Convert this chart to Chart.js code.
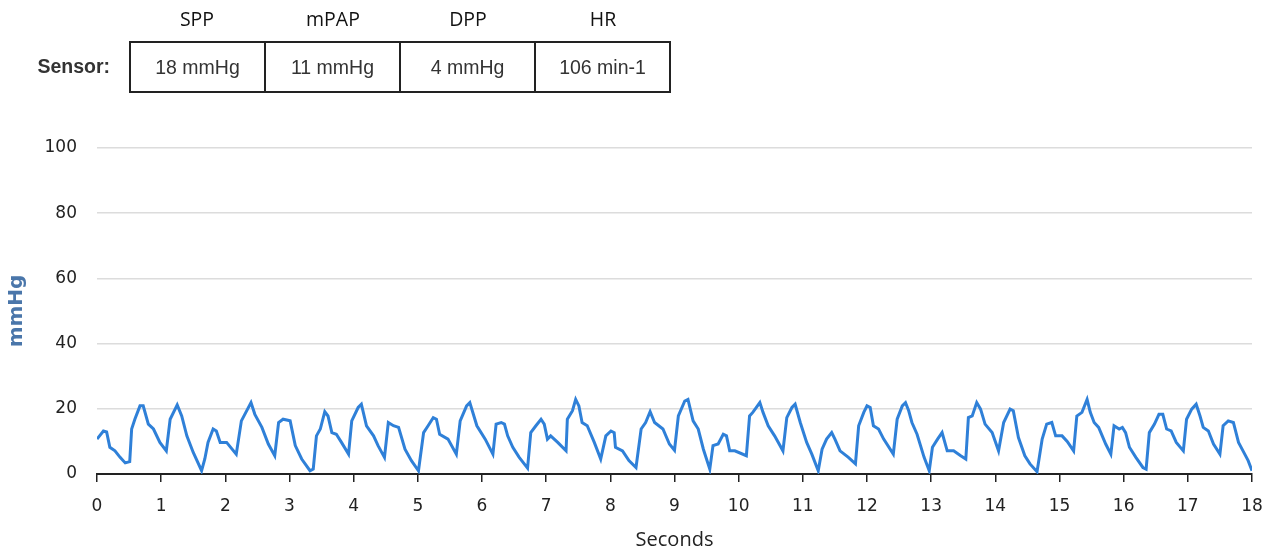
<!DOCTYPE html>
<html>
<head>
<meta charset="utf-8">
<script src="https://cdn.jsdelivr.net/npm/chart.js@4/dist/chart.umd.min.js"></script>
<style>
  html, body { margin: 0; padding: 0; background: #fff; }
  #wrap { position: relative; width: 1272px; height: 553px; overflow: hidden; }
  #c { position: absolute; left: 0; top: 0; }
  .hdr { position: absolute; top: 5px; width: 136px; text-align: center; font-family: "Open Sans", sans-serif; font-size: 19.5px; color: #111; }
  #sensorLbl { position: absolute; left: 10px; width: 100px; top: 55px; text-align: right; font-family: "Liberation Sans", Arial, sans-serif; font-weight: bold; font-size: 19.5px; color: #333; }
  #tbl { position: absolute; left: 129px; top: 41px; border-collapse: collapse; }
  #tbl td { border: 2px solid #222; width: 133px; height: 48px; padding: 0; text-align: center; font-family: "Liberation Sans", Arial, sans-serif; font-size: 19.5px; color: #333; }
</style>
</head>
<body>
<div id="wrap">
  <canvas id="c" width="1272" height="553"></canvas>
  <div id="headers"></div>
  <div id="sensorLbl"></div>
  <table id="tbl"><tr id="row"></tr></table>
</div>
<script>
// ---- table contents ----
const headerLabels = ["SPP", "mPAP", "DPP", "HR"];
const sensorValues = ["18 mmHg", "11 mmHg", "4 mmHg", "106 min-1"];
const rowLabel = "Sensor:";

// ---- waveform data (seconds, mmHg) ----
const times = [
  0.00,0.10,0.15,0.20,0.28,0.36,0.44,0.51,0.54,0.59,0.67,0.72,0.80,0.88,0.98,1.08,1.14,1.25,1.32,1.40,
  1.50,1.63,1.68,1.73,1.81,1.86,1.92,2.02,2.17,2.25,2.40,2.46,2.57,2.67,2.77,2.83,2.90,3.01,3.09,3.19,
  3.32,3.37,3.42,3.48,3.55,3.60,3.66,3.73,3.81,3.92,3.97,4.07,4.12,4.20,4.31,4.38,4.48,4.54,4.62,4.70,
  4.80,4.90,5.01,5.09,5.16,5.24,5.29,5.34,5.47,5.60,5.66,5.76,5.81,5.92,6.05,6.17,6.22,6.30,6.35,6.40,
  6.48,6.58,6.71,6.76,6.84,6.92,6.97,7.02,7.07,7.18,7.31,7.33,7.41,7.46,7.51,7.56,7.64,7.75,7.85,7.93,
  8.01,8.06,8.08,8.19,8.29,8.40,8.48,8.55,8.62,8.69,8.82,8.92,9.00,9.06,9.16,9.21,9.29,9.37,9.45,9.55,
  9.60,9.68,9.76,9.81,9.86,9.94,10.12,10.17,10.22,10.33,10.38,10.46,10.56,10.69,10.75,10.83,10.88,10.96,11.06,11.14,
  11.24,11.30,11.37,11.45,11.50,11.58,11.71,11.82,11.87,11.95,12.00,12.05,12.10,12.18,12.26,12.41,12.47,12.55,12.60,12.65,
  12.70,12.78,12.89,12.97,13.02,13.10,13.17,13.25,13.35,13.46,13.54,13.58,13.64,13.71,13.77,13.84,13.95,14.05,14.13,14.23,
  14.28,14.36,14.46,14.54,14.65,14.73,14.80,14.88,14.94,15.04,15.12,15.22,15.27,15.35,15.43,15.48,15.54,15.61,15.72,15.80,
  15.85,15.93,15.98,16.03,16.09,16.19,16.30,16.35,16.40,16.48,16.55,16.61,16.67,16.74,16.82,16.93,16.98,17.06,17.13,17.19,
  17.24,17.32,17.40,17.50,17.55,17.63,17.71,17.79,17.86,17.94,18.00
];
const pressure = [
  10.7,13.2,12.9,8.2,7.1,5.1,3.4,3.8,13.8,16.8,20.9,20.9,15.3,13.8,9.7,7.1,16.8,21.2,17.8,11.7,
  6.6,1.0,4.6,9.7,13.8,13.2,9.7,9.7,6.1,16.3,21.9,18.3,14.3,9.2,5.6,15.8,16.8,16.3,8.7,4.6,
  1.0,1.5,11.7,13.8,19.1,17.8,12.7,12.2,9.7,6.1,16.3,20.4,21.4,14.8,11.7,8.7,5.1,15.8,14.8,14.3,
  7.6,4.1,1.0,12.7,14.8,17.3,16.8,12.2,10.7,6.1,16.3,20.9,21.9,14.8,10.7,6.1,15.3,15.8,15.3,11.7,
  8.2,5.1,1.8,12.7,14.8,16.8,15.3,10.7,11.7,9.7,7.1,16.8,19.4,22.9,20.9,15.8,14.8,9.7,4.6,11.7,
  13.2,12.7,8.2,7.1,4.1,2.0,13.8,15.8,19.1,15.8,13.8,9.2,7.3,17.8,22.4,22.9,16.3,13.8,7.6,1.5,
  8.7,9.2,12.2,11.7,7.1,7.1,5.6,17.8,18.9,21.9,18.9,14.8,11.7,7.1,17.3,20.4,21.4,15.8,9.7,6.1,
  1.0,7.6,10.7,12.7,10.7,7.1,5.1,3.1,14.8,18.9,20.9,20.4,14.8,13.8,10.7,6.1,16.8,20.9,21.9,19.4,
  15.8,12.2,5.1,1.0,8.2,10.7,12.7,7.1,7.1,5.6,4.6,17.3,17.8,21.9,19.9,15.3,12.7,7.1,15.8,19.9,
  19.4,11.2,5.6,3.1,0.7,10.7,15.3,15.8,11.7,11.7,10.0,7.1,17.8,18.9,22.9,18.9,15.8,14.3,9.2,6.1,
  14.8,13.8,14.3,12.7,8.2,5.1,2.0,1.5,12.7,15.3,18.3,18.3,13.8,13.2,9.7,7.1,16.8,19.9,21.4,17.8,
  14.3,13.2,9.2,6.1,14.8,16.3,15.8,9.7,7.1,4.1,1.0
];
const xTickMax = 18;
const yTickMax = 100;
const xTitle = "Seconds";
const yTitle = "mmHg";

// ---- build table ----
const headerLeft = [129, 265, 400, 535];
const hdrDiv = document.getElementById('headers');
headerLabels.forEach((h, i) => {
  const d = document.createElement('div');
  d.className = 'hdr';
  d.style.left = headerLeft[i] + 'px';
  d.textContent = h;
  hdrDiv.appendChild(d);
});
document.getElementById('sensorLbl').textContent = rowLabel;
const row = document.getElementById('row');
sensorValues.forEach(v => {
  const td = document.createElement('td');
  td.textContent = v;
  row.appendChild(td);
});

// ---- chart ----
const points = times.map((t, i) => ({ x: t, y: pressure[i] }));
new Chart(document.getElementById('c'), {
  type: 'line',
  data: {
    datasets: [{
      data: points,
      borderColor: '#2f80d8',
      borderWidth: 3,
      pointRadius: 0,
      tension: 0,
      fill: false
    }]
  },
  options: {
    responsive: false,
    animation: false,
    events: [],
    layout: { padding: { top: 148, right: 20, left: 0, bottom: 0 } },
    plugins: { legend: { display: false }, tooltip: { enabled: false } },
    scales: {
      x: {
        type: 'linear',
        min: 0,
        max: xTickMax,
        afterFit: s => { s.height = 79; s.paddingRight = 0; s.paddingLeft = 0; },
        ticks: { stepSize: 1, color: '#222', font: { family: 'DejaVu Sans', size: 17 }, padding: 14, maxRotation: 0 },
        grid: { drawOnChartArea: false, drawTicks: true, tickLength: 8, color: '#222', lineWidth: 1.5 },
        border: { display: true, color: '#222', width: 2 },
        title: { display: true, text: xTitle, color: '#222', font: { family: 'Open Sans', size: 20 }, padding: { top: 0, bottom: 1 } }
      },
      y: {
        min: 0,
        max: yTickMax,
        afterFit: s => { s.width = 97; },
        ticks: { stepSize: 20, color: '#222', font: { family: 'DejaVu Sans', size: 17 }, padding: 20 },
        grid: { color: '#dcdcdc', lineWidth: 1.5, drawTicks: false },
        border: { display: false },
        title: { display: true, text: yTitle, color: '#4a76aa', font: { family: 'DejaVu Sans', size: 20, weight: 'bold' }, padding: { top: 5, bottom: 0 } }
      }
    }
  }
});
</script>
</body>
</html>
